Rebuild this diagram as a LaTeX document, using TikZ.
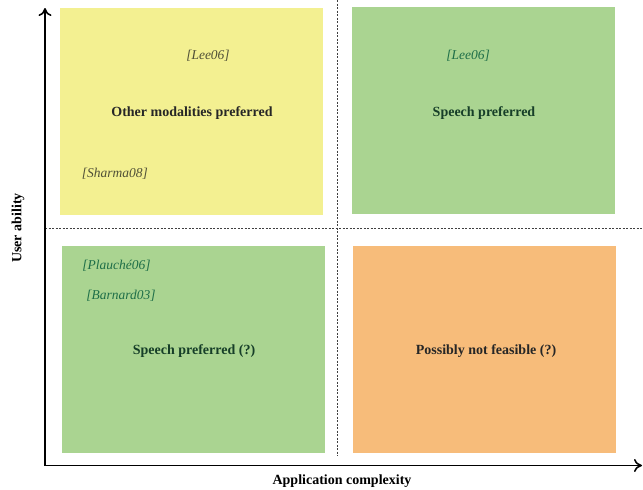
\documentclass[tikz,border=0pt]{standalone}
\usepackage{fontspec}
\setmainfont{Liberation Serif}
\usetikzlibrary{arrows.meta}
\definecolor{jaune}{RGB}{243,240,145}
\definecolor{vert}{RGB}{170,212,145}
\definecolor{orange}{RGB}{247,188,122}
\definecolor{vertfonce}{RGB}{22,62,40}
\definecolor{vertref}{RGB}{30,110,72}
\definecolor{grisref}{RGB}{80,80,55}

\begin{document}
\begin{tikzpicture}[x=1pt, y=-1pt,
    zone/.style = {draw=none, minimum width=263pt, minimum height=207pt, inner sep=0pt},
    titre/.style = {font=\fontsize{14}{16}\selectfont\bfseries},
    ref/.style = {font=\fontsize{13.5}{16}\selectfont\itshape},
    axe/.style = {line width=1.6pt, -{To[length=8pt, width=13pt]}},
    sep/.style = {dash pattern=on 2pt off 1.5pt, line width=0.8pt, black!75}]
                \useasboundingbox (0,0) rectangle (643,490);

                % Zones
                \node[zone, fill=jaune] (hg) at (191,111) {};
                \node[zone, fill=vert] (hd) at (483.5,110.5) {};
                \node[zone, fill=vert] (bg) at (193.5,349.5) {};
                \node[zone, fill=orange] (bd) at (484.5,349.5) {};

                % Séparations
                \coordinate (sepg) at (45,228);
                \coordinate (sepd) at (643,228);
                \coordinate (seph) at (337,0);
                \coordinate (sepb) at (337,456);
                \draw[sep] (sepg) -- (sepd);
                \draw[sep] (seph) -- (sepb);

                % Axes
                \coordinate (O) at (45,465.5);
                \coordinate (ymax) at (45,8);
                \coordinate (xmax) at (642,465.5);
                \draw[axe] (O) -- (ymax);
                \draw[axe] (O) -- (xmax);
                \node[titre, rotate=90] (ua) at (18,228) {User ability};
                \node[titre] (ac) at (342,481) {Application complexity};

                % Textes
                \node[ref, text=grisref] (lee1) at (208,56) {[Lee06]};
                \node[titre, text=black!85] (omp) at (192,113) {Other modalities preferred};
                \node[ref, text=grisref] (sha) at (115,174) {[Sharma08]};
                \node[ref, text=vertref] (lee2) at (468,56) {[Lee06]};
                \node[titre, text=vertfonce] (sp) at (484,113) {Speech preferred};
                \node[ref, text=vertref] (pla) at (116.5,266) {[Plauché06]};
                \node[ref, text=vertref] (bar) at (121,296) {[Barnard03]};
                \node[titre, text=vertfonce] (spq) at (194,351) {Speech preferred (?)};
                \node[titre, text=black!85] (pnf) at (486,351) {Possibly not feasible (?)};
                \end{tikzpicture}
\end{document}
